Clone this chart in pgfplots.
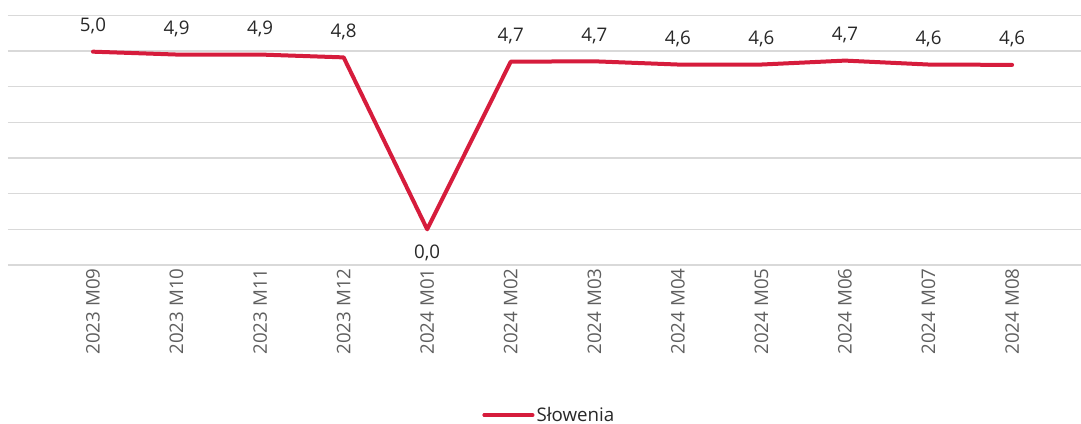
\documentclass[border=0pt]{standalone}
\usepackage{fontspec}
\setmainfont{Open Sans}
\usepackage{pgfplots}
\pgfplotsset{compat=1.18}
\definecolor{slored}{RGB}{214,28,60}
\definecolor{gridgray}{RGB}{217,217,217}
\definecolor{ticktext}{RGB}{95,95,95}
\definecolor{valtext}{RGB}{40,40,40}

\begin{document}
\begin{tikzpicture}[font=\fontsize{18.8}{22}\selectfont]
\useasboundingbox (-8bp,-159bp) rectangle (1073bp,265bp);
\begin{axis}[
    scale only axis, width=1073bp, height=249.7bp,
    xmin=-1.017, xmax=11.825, ymin=-1, ymax=6,
    axis line style={draw=none},
    ytick={-1,0,...,6}, yticklabel={\empty}, ymajorgrids,
    major grid style={gridgray, line width=1.3bp},
    xtick={0,...,11},
    xticklabels={2023 M09, 2023 M10, 2023 M11, 2023 M12, 2024 M01, 2024 M02,
                 2024 M03, 2024 M04, 2024 M05, 2024 M06, 2024 M07, 2024 M08},
    major tick length=0pt,
    xticklabel style={rotate=90, anchor=east, text=ticktext},
    /pgf/number format/assume math mode=true,
    legend style={at={(0.5046,-0.601)}, anchor=center, draw=none, fill=none,
                  text=valtext},
    legend image code/.code={\draw[#1, line width=4bp] (0bp,0bp) -- (42bp,0bp);
                             \path (0bp,0bp) -- (48bp,0bp);},
    clip=false,
]
% Slovenia series
\addplot[slored, line width=4bp, line join=round, line cap=round]
    coordinates {(0,4.98)(1,4.90)(2,4.90)(3,4.82)(4,0.0)(5,4.70)
                 (6,4.71)(7,4.62)(8,4.62)(9,4.73)(10,4.62)(11,4.61)};
\addlegendentry{Słowenia}
% value labels above
\addplot[draw=none, forget plot,
    nodes near coords={\pgfmathprintnumber[fixed, fixed zerofill, precision=1, use comma]{\pgfplotspointmeta}},
    nodes near coords style={anchor=base, yshift=20bp, text=valtext}]
    coordinates {(0,4.98)(1,4.90)(2,4.90)(3,4.82)(5,4.70)
                 (6,4.71)(7,4.62)(8,4.62)(9,4.73)(10,4.62)(11,4.61)};
% value label below the dip
\addplot[draw=none, forget plot,
    nodes near coords={\pgfmathprintnumber[fixed, fixed zerofill, precision=1, use comma]{\pgfplotspointmeta}},
    nodes near coords style={anchor=base, yshift=-29.5bp, text=valtext}]
    coordinates {(4,0.0)};
\end{axis}
\end{tikzpicture}
\end{document}
